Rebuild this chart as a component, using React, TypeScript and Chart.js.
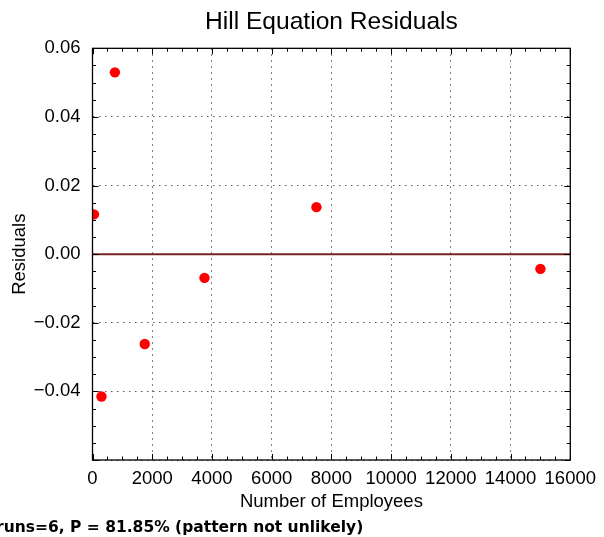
import { useEffect, useRef } from 'react';
import { Chart, registerables } from 'chart.js';

Chart.register(...registerables);

// ---- data ----
const employees = [50, 300, 750, 1750, 3750, 7500, 15000];
const residuals = [0.0116, -0.0415, 0.053, -0.0262, -0.0069, 0.0137, -0.0043];
const zeroLineX = [0, 16000];
const zeroLineY = [0, 0];

const xTicks = [0, 2000, 4000, 6000, 8000, 10000, 12000, 14000, 16000];
const xTickLabels = ['0', '2000', '4000', '6000', '8000', '10000', '12000', '14000', '16000'];
const yTicks = [-0.06, -0.04, -0.02, 0, 0.02, 0.04, 0.06];
const yTickLabels = ['', '\u22120.04', '\u22120.02', '0.00', '0.02', '0.04', '0.06'];
const xMinorStep = 500;
const yMinorStep = 0.005;

const titleText = 'Hill Equation Residuals';
const xTitle = 'Number of Employees';
const yTitle = 'Residuals';
const footnote = 'runs=6, P = 81.85% (pattern not unlikely)';

const FONT = '"Liberation Sans", Arial, sans-serif';

const framePlugin = {
  id: 'frame',
  afterDraw(chart: any) {
    const { ctx, chartArea } = chart;
    const xs = chart.scales.x;
    const ys = chart.scales.y;
    const { left, right, top, bottom } = chartArea;
    ctx.save();
    ctx.strokeStyle = '#000';
    ctx.lineWidth = 1;
    // x ticks (inward, top & bottom)
    const nx = Math.round((xs.max - xs.min) / xMinorStep);
    for (let i = 0; i <= nx; i++) {
      const v = xs.min + i * xMinorStep;
      const major = xTicks.includes(v);
      const len = major ? 6 : 3.5;
      const px = Math.round(xs.getPixelForValue(v)) + 0.5;
      ctx.beginPath();
      ctx.moveTo(px, bottom);
      ctx.lineTo(px, bottom - len);
      ctx.moveTo(px, top);
      ctx.lineTo(px, top + len);
      ctx.stroke();
    }
    const ny = Math.round((ys.max - ys.min) / yMinorStep);
    for (let i = 0; i <= ny; i++) {
      const v = ys.min + i * yMinorStep;
      const major = i % 4 === 0;
      const len = major ? 6 : 3.5;
      const py = Math.round(ys.getPixelForValue(v)) + 0.5;
      ctx.beginPath();
      ctx.moveTo(left, py);
      ctx.lineTo(left + len, py);
      ctx.moveTo(right, py);
      ctx.lineTo(right - len, py);
      ctx.stroke();
    }
    // frame
    ctx.lineWidth = 1.3;
    ctx.strokeRect(left, top, right - left, bottom - top);
    // footnote
    ctx.fillStyle = '#000';
    ctx.font = 'bold 15.5px "DejaVu Sans", sans-serif';
    ctx.textAlign = 'left';
    ctx.textBaseline = 'alphabetic';
    ctx.fillText(footnote, -4, 532);
    ctx.restore();
  },
};

export default function App() {
  const ref = useRef<HTMLCanvasElement | null>(null);

  useEffect(() => {
    if (!ref.current) return;
    const chart = new Chart(ref.current, {
      type: 'scatter',
      data: {
        datasets: [
          {
            label: 'Residuals',
            data: employees.map((x, i) => ({ x, y: residuals[i] })),
            backgroundColor: '#ff0000',
            borderWidth: 0,
            pointRadius: 5.2,
            pointHoverRadius: 5.2,
            clip: 0,
          } as any,
          {
            label: 'zero',
            data: zeroLineX.map((x, i) => ({ x, y: zeroLineY[i] })),
            showLine: true,
            borderColor: 'rgb(120,35,35)',
            borderWidth: 2,
            pointRadius: 0,
            clip: 0,
          } as any,
        ],
      },
      options: {
        animation: false,
        responsive: false,
        layout: { padding: { left: 0, right: 33, top: 0, bottom: 24 } },
        plugins: {
          legend: { display: false },
          tooltip: { enabled: false },
          title: {
            display: true,
            text: titleText,
            fullSize: false,
            color: '#000',
            font: { family: FONT, size: 24.6, weight: 'normal', lineHeight: 1.2 },
            padding: { top: 7, bottom: 11.8 },
          },
        },
        scales: {
          x: {
            type: 'linear',
            min: 0,
            max: 16000,
            afterBuildTicks: (s: any) => {
              s.ticks = xTicks.map((v) => ({ value: v }));
            },
            afterFit: (s: any) => {
              s.height = 53;
            },
            ticks: {
              autoSkip: false,
              maxRotation: 0,
              padding: 8,
              color: '#000',
              font: { family: FONT, size: 18.5 },
              callback: (_v: any, i: number) => xTickLabels[i],
            },
            grid: { color: 'rgba(0,0,0,0.65)', lineWidth: 1, drawTicks: false },
            border: { display: false, dash: [1.5, 4.5] },
            title: {
              display: true,
              text: xTitle,
              color: '#000',
              font: { family: FONT, size: 18.5, lineHeight: 1.2 },
              padding: { top: 0, bottom: 0 },
            },
          },
          y: {
            type: 'linear',
            min: -0.06,
            max: 0.06,
            afterBuildTicks: (s: any) => {
              s.ticks = yTicks.map((v) => ({ value: v }));
            },
            afterFit: (s: any) => {
              s.width = 92.5;
            },
            ticks: {
              autoSkip: false,
              padding: 12,
              color: '#000',
              font: { family: FONT, size: 18.5 },
              callback: (_v: any, i: number) => yTickLabels[i],
            },
            grid: { color: 'rgba(0,0,0,0.65)', lineWidth: 1, drawTicks: false },
            border: { display: false, dash: [1.5, 4.5] },
            title: {
              display: true,
              text: yTitle,
              color: '#000',
              font: { family: FONT, size: 18.5, lineHeight: 1.2 },
              padding: { top: 9, bottom: 0 },
            },
          },
        },
      },
      plugins: [framePlugin],
    } as any);
    return () => chart.destroy();
  }, []);

  return (
    <div style={{ position: 'fixed', left: 0, top: 0, width: 604, height: 537, background: '#fff' }}>
      <canvas ref={ref} width={604} height={537} style={{ display: 'block' }} />
    </div>
  );
}
